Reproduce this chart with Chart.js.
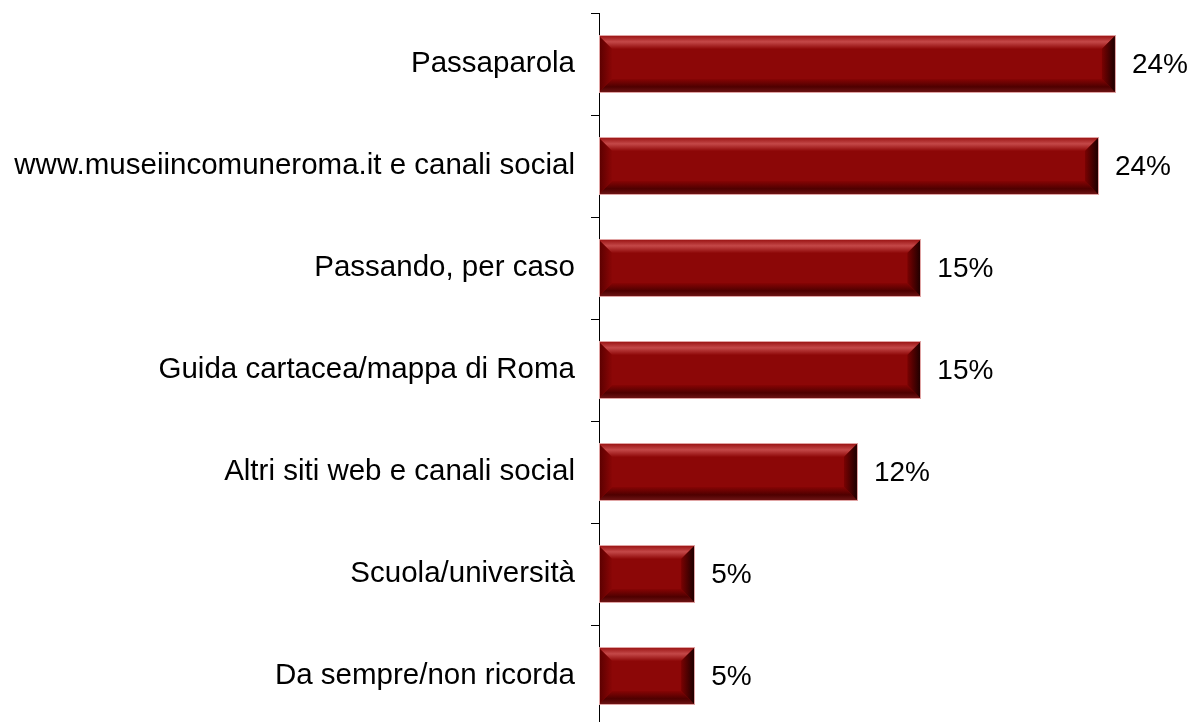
<!DOCTYPE html>
<html>
<head>
<meta charset="utf-8">
<script src="https://cdn.jsdelivr.net/npm/chart.js@4/dist/chart.umd.min.js"></script>
<style>
  html, body { margin: 0; padding: 0; background: #fff; overflow: hidden; }
  #chart { display: block; }
</style>
</head>
<body>
<canvas id="chart" width="1191" height="730"></canvas>
<script>
// --- data ---
const categories = [
    'Passaparola',
    'www.museiincomuneroma.it e canali social',
    'Passando, per caso',
    'Guida cartacea/mappa di Roma',
    'Altri siti web e canali social',
    'Scuola/università',
    'Da sempre/non ricorda'
];
const shares = [24.4, 23.6, 15.2, 15.2, 12.2, 4.5, 4.5];

const FONT = '"Liberation Sans", Arial, sans-serif';

// bevelled bar look, drawn over each bar element
const bevelPlugin = {
    id: 'bevel',
    afterDatasetsDraw(chart) {
        const ctx = chart.ctx;
        const meta = chart.getDatasetMeta(0);
        meta.data.forEach(bar => {
            const p = bar.getProps(['x', 'y', 'base', 'height'], true);
            const l = p.base, r = p.x, t = p.y - p.height / 2, b = p.y + p.height / 2;
            const s = 13;
            ctx.save();

            // top band
            let g = ctx.createLinearGradient(0, t, 0, t + s);
            g.addColorStop(0, '#9c1616');
            g.addColorStop(0.45, '#c44848');
            g.addColorStop(1, '#8e0808');
            ctx.fillStyle = g;
            ctx.beginPath();
            ctx.moveTo(l, t); ctx.lineTo(r, t); ctx.lineTo(r - s, t + s); ctx.lineTo(l + s, t + s);
            ctx.closePath(); ctx.fill();

            // bottom band
            g = ctx.createLinearGradient(0, b - s, 0, b);
            g.addColorStop(0, '#860404');
            g.addColorStop(0.6, '#4e0000');
            g.addColorStop(1, '#6c1414');
            ctx.fillStyle = g;
            ctx.beginPath();
            ctx.moveTo(l + s, b - s); ctx.lineTo(r - s, b - s); ctx.lineTo(r, b); ctx.lineTo(l, b);
            ctx.closePath(); ctx.fill();

            // left band
            g = ctx.createLinearGradient(l, 0, l + s, 0);
            g.addColorStop(0, '#5a0000');
            g.addColorStop(1, '#8a0606');
            ctx.fillStyle = g;
            ctx.beginPath();
            ctx.moveTo(l, t); ctx.lineTo(l + s, t + s); ctx.lineTo(l + s, b - s); ctx.lineTo(l, b);
            ctx.closePath(); ctx.fill();

            // right band
            g = ctx.createLinearGradient(r - s, 0, r, 0);
            g.addColorStop(0, '#7a0202');
            g.addColorStop(1, '#1e0000');
            ctx.fillStyle = g;
            ctx.beginPath();
            ctx.moveTo(r - s, t + s); ctx.lineTo(r, t); ctx.lineTo(r, b); ctx.lineTo(r - s, b - s);
            ctx.closePath(); ctx.fill();

            // thin light outline
            ctx.strokeStyle = '#e0a4a4';
            ctx.lineWidth = 1;
            ctx.strokeRect(Math.round(l) + 0.5, Math.round(t) - 0.5, Math.round(r - l), Math.round(b - t) + 1);
            ctx.restore();
        });
    }
};

// percentage labels at the end of each bar
const valueLabels = {
    id: 'valueLabels',
    afterDatasetsDraw(chart) {
        const ctx = chart.ctx;
        const meta = chart.getDatasetMeta(0);
        ctx.save();
        ctx.font = '28px ' + FONT;
        ctx.fillStyle = '#000';
        ctx.textAlign = 'left';
        ctx.textBaseline = 'middle';
        meta.data.forEach((bar, i) => {
            ctx.fillText(Math.round(shares[i]) + '%', bar.x + 17, bar.y + 1);
        });
        ctx.restore();
    }
};

new Chart(document.getElementById('chart'), {
    type: 'bar',
    data: {
        labels: categories,
        datasets: [{
            data: shares,
            backgroundColor: '#8c0707',
            borderWidth: 0,
            barPercentage: 0.55,
            categoryPercentage: 1
        }]
    },
    options: {
        indexAxis: 'y',
        responsive: false,
        animation: false,
        devicePixelRatio: 1,
        layout: { padding: { top: 13, bottom: 3, left: 0, right: 0 } },
        plugins: {
            legend: { display: false },
            tooltip: { enabled: false }
        },
        scales: {
            x: {
                display: false,
                min: 0,
                max: 28
            },
            y: {
                afterFit(scale) {
                    scale.width = 599;
                    scale.paddingTop = 0;
                    scale.paddingBottom = 0;
                },
                border: { display: true, color: '#000', width: 1 },
                grid: {
                    offset: true,
                    drawOnChartArea: false,
                    drawTicks: true,
                    tickLength: 8,
                    color: '#000'
                },
                ticks: {
                    color: '#000',
                    padding: 16,
                    font: { family: FONT, size: 29.5 }
                }
            }
        }
    },
    plugins: [bevelPlugin, valueLabels]
});
</script>
</body>
</html>
